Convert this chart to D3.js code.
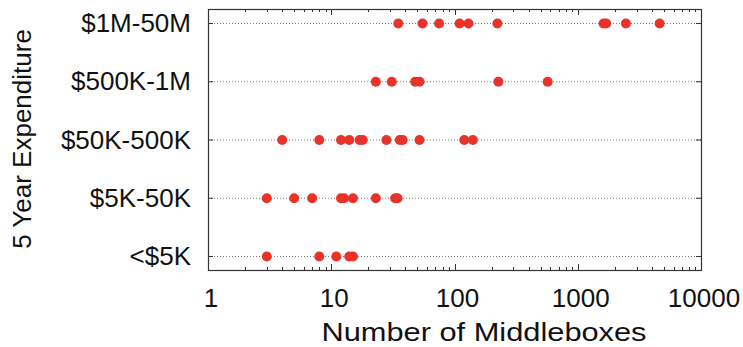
<!DOCTYPE html>
<html>
<head>
<meta charset="utf-8">
<script src="https://cdn.jsdelivr.net/npm/d3@7"></script>
<style>
  body { margin: 0; background: #fff; }
  text { font-family: "Liberation Sans", Arial, Helvetica, sans-serif; fill: #111; }
</style>
</head>
<body>
<script>
// categories, top row first
var categories = ["$1M-50M", "$500K-1M", "$50K-500K", "$5K-50K", "<$5K"];

var row1M50M = [35, 55, 75, 110, 130, 223, 1620, 1700, 2460, 4620];
var row500K1M = [23, 31, 48, 52, 227, 570];
var row50K500K = [4, 8, 12, 14, 17, 18, 28, 36, 38, 52, 120, 141];
var row5K50K = [3, 5, 7, 12, 12.7, 15, 23, 33, 34.5];
var rowUnder5K = [3, 8, 11, 14, 15];

var xTicks = [1, 10, 100, 1000, 10000];
var xTitle = "Number of Middleboxes";
var yTitle = "5 Year Expenditure";

function init () {
  var w = 743, h = 347;
  var left = 208, right = 701, top = 9, bottom = 270;

  var rows = [row1M50M, row500K1M, row50K500K, row5K50K, rowUnder5K];
  var points = [];
  rows.forEach(function(r, i) {
    r.forEach(function(v) { points.push({cat: categories[i], v: v}); });
  });

  var xScale = d3.scaleLog()
    .domain([1, 10000])
    .range([left, right]);

  var yScale = d3.scalePoint()
    .domain(categories)
    .range([top, bottom])
    .padding(0.24);

  var svg = d3.select("body")
    .append("svg")
    .attr("width", w)
    .attr("height", h);

  // dotted grid lines
  svg.selectAll("line.grid")
    .data(categories)
    .enter()
    .append("line")
    .attr("class", "grid")
    .attr("x1", left)
    .attr("x2", right)
    .attr("y1", function(d) { return yScale(d) + 0.5; })
    .attr("y2", function(d) { return yScale(d) + 0.5; })
    .attr("stroke", "#777")
    .attr("stroke-width", 1)
    .attr("stroke-dasharray", "1,2");

  // minor + major ticks, top and bottom, pointing inward
  var minor = [];
  for (var e = 0; e < 4; e++) {
    for (var m = 2; m < 10; m++) minor.push(m * Math.pow(10, e));
  }
  var allTicks = minor.map(function(v) { return {v: v, len: 3}; })
    .concat(xTicks.map(function(v) { return {v: v, len: 6}; }));

  [bottom, top].forEach(function(yy, k) {
    svg.append("g").selectAll("line")
      .data(allTicks)
      .enter()
      .append("line")
      .attr("x1", function(d) { return Math.round(xScale(d.v)) + 0.5; })
      .attr("x2", function(d) { return Math.round(xScale(d.v)) + 0.5; })
      .attr("y1", yy)
      .attr("y2", function(d) { return k === 0 ? yy - d.len : yy + d.len; })
      .attr("stroke", "#333")
      .attr("stroke-width", 1);
  });

  // y ticks on both sides
  [left, right].forEach(function(xx, k) {
    svg.append("g").selectAll("line")
      .data(categories)
      .enter()
      .append("line")
      .attr("x1", xx)
      .attr("x2", k === 0 ? xx + 5 : xx - 5)
      .attr("y1", function(d) { return yScale(d) + 0.5; })
      .attr("y2", function(d) { return yScale(d) + 0.5; })
      .attr("stroke", "#333")
      .attr("stroke-width", 1);
  });

  // frame
  svg.append("rect")
    .attr("x", left + 0.5)
    .attr("y", top + 0.5)
    .attr("width", right - left)
    .attr("height", bottom - top)
    .attr("fill", "none")
    .attr("stroke", "#333")
    .attr("stroke-width", 1.2);

  // points
  svg.selectAll("circle")
    .data(points)
    .enter()
    .append("circle")
    .attr("cx", function(d) { return xScale(d.v); })
    .attr("cy", function(d) { return yScale(d.cat) + 0.5; })
    .attr("r", 5)
    .attr("fill", "#e8322a");

  // x tick labels
  svg.selectAll("text.xt")
    .data(xTicks)
    .enter()
    .append("text")
    .attr("class", "xt")
    .attr("x", function(d) { return xScale(d) + 3; })
    .attr("y", 307)
    .attr("text-anchor", "middle")
    .attr("font-size", 26)
    .text(function(d) { return d; });

  // y tick labels
  svg.selectAll("text.yt")
    .data(categories)
    .enter()
    .append("text")
    .attr("class", "yt")
    .attr("x", 191)
    .attr("y", function(d) { return yScale(d) + 9; })
    .attr("text-anchor", "end")
    .attr("font-size", 26)
    .text(function(d) { return d; });

  svg.append("text")
    .attr("x", 484)
    .attr("y", 341)
    .attr("text-anchor", "middle")
    .attr("font-size", 26)
    .attr("textLength", 325)
    .attr("lengthAdjust", "spacingAndGlyphs")
    .text(xTitle);

  svg.append("text")
    .attr("transform", "translate(31," + 139 + ") rotate(-90)")
    .attr("text-anchor", "middle")
    .attr("font-size", 26)
    .text(yTitle);
}

window.onload = init;
</script>
</body>
</html>
